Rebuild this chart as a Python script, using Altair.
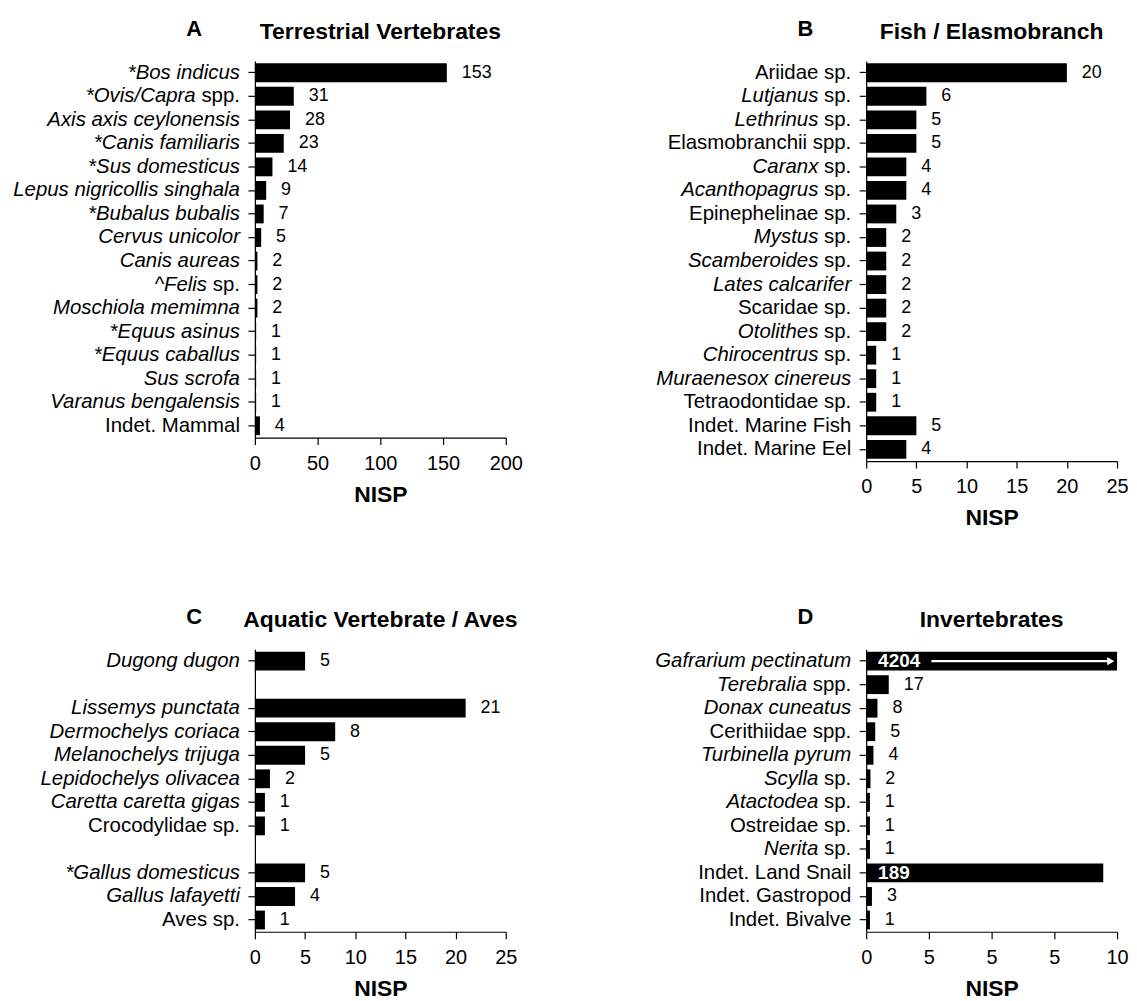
import re
import altair as alt
import pandas as pd

FONT = "Liberation Sans"

# ---------------- data ----------------
# labels: _text_ marks italic parts; None marks an empty separator row
a_labels = ["*_Bos indicus_", "*_Ovis/Capra_ spp.", "_Axis axis ceylonensis_", "*_Canis familiaris_",
            "*_Sus domesticus_", "_Lepus nigricollis singhala_", "*_Bubalus bubalis_", "_Cervus unicolor_",
            "_Canis aureas_", "^_Felis_ sp.", "_Moschiola memimna_", "*_Equus asinus_",
            "*_Equus caballus_", "_Sus scrofa_", "_Varanus bengalensis_", "Indet. Mammal"]
a_bars = [153, 31, 28, 23, 14, 9, 7, 5, 2, 2, 2, 1, 1, 1, 1, 4]
a_texts = ["153", "31", "28", "23", "14", "9", "7", "5", "2", "2", "2", "1", "1", "1", "1", "4"]

b_labels = ["Ariidae sp.", "_Lutjanus_ sp.", "_Lethrinus_ sp.", "Elasmobranchii spp.", "_Caranx_ sp.",
            "_Acanthopagrus_ sp.", "Epinephelinae sp.", "_Mystus_ sp.", "_Scamberoides_ sp.",
            "_Lates calcarifer_", "Scaridae sp.", "_Otolithes_ sp.", "_Chirocentrus_ sp.",
            "_Muraenesox cinereus_", "Tetraodontidae sp.", "Indet. Marine Fish", "Indet. Marine Eel"]
b_bars = [20, 6, 5, 5, 4, 4, 3, 2, 2, 2, 2, 2, 1, 1, 1, 5, 4]
b_texts = ["20", "6", "5", "5", "4", "4", "3", "2", "2", "2", "2", "2", "1", "1", "1", "5", "4"]

c_labels = ["_Dugong dugon_", None, "_Lissemys punctata_", "_Dermochelys coriaca_", "_Melanochelys trijuga_",
            "_Lepidochelys olivacea_", "_Caretta caretta gigas_", "Crocodylidae sp.", None,
            "*_Gallus domesticus_", "_Gallus lafayetti_", "Aves sp."]
c_bars = [5, None, 21, 8, 5, 1.5, 1, 1, None, 5, 4, 1]
c_texts = ["5", None, "21", "8", "5", "2", "1", "1", None, "5", "4", "1"]

d_labels = ["_Gafrarium pectinatum_", "_Terebralia_ spp.", "_Donax cuneatus_", "Cerithiidae spp.",
            "_Turbinella pyrum_", "_Scylla_ sp.", "_Atactodea_ sp.", "Ostreidae sp.", "_Nerita_ sp.",
            "Indet. Land Snail", "Indet. Gastropod", "Indet. Bivalve"]
d_bars = [10, 0.9, 0.45, 0.36, 0.29, 0.17, 0.15, 0.15, 0.15, 9.45, 0.23, 0.15]   # lengths on the broken axis
d_texts = ["4204", "17", "8", "5", "4", "2", "1", "1", "1", "189", "3", "1"]
d_inside = ["4204", "189"]            # values printed in white inside their bars
d_arrow = [2.6, 9.75]                 # arrow inside the Gafrarium bar (axis units)

a_ticks = [0, 50, 100, 150, 200]
bc_ticks = [0, 5, 10, 15, 20, 25]
d_tick_values = [0, 2.5, 5, 7.5, 10]
d_tick_labels = ["0", "5", "5", "5", "10"]

# ---------------- style ----------------
STEP = 23.64
PLOT_W = 252
YLAB_SIZE = 20.5
YLAB_GAP = 15
# Helvetica/Arial advance widths (1/1000 em) for the upright suffix glyphs
ADV = {" ": 278, "s": 500, "p": 556, ".": 278}


def width(s, size):
    return sum(ADV[c] for c in s) * size / 1000.0


def split_label(label):
    m = re.fullmatch(r"([*^]?)_(.+?)_(.*)", label)
    if m:
        pre, ital, suf = m.groups()
        return pre + ital, suf
    return "", label


def panel(letter, title, labels, bars, texts, xmax, tick_values, tick_labels=None,
          inside=(), arrow=None):
    rows = []
    for i, (lab, b, t) in enumerate(zip(labels, bars, texts)):
        key = lab if lab is not None else "gap%d" % i
        if lab is None:
            rows.append(dict(key=key, bar=None, txt="", ital="", norm="", inside=False))
            continue
        ital, norm = split_label(lab)
        rows.append(dict(key=key, bar=b, txt=t, ital=ital, norm=norm, inside=t in inside))
    df = pd.DataFrame(rows)
    order = list(df["key"])
    tick_keys = [k for k, l in zip(order, labels) if l is not None]

    yenc = alt.Y("key:N", sort=order,
                 scale=alt.Scale(paddingInner=0.2, paddingOuter=0.1),
                 axis=alt.Axis(title=None, labels=False, values=tick_keys, tickSize=7,
                               tickColor="black", domainColor="black", domainWidth=1.2,
                               tickWidth=1.2))
    if tick_labels is None:
        lexpr = "datum.label"
    else:
        parts = ["datum.value == %s ? '%s'" % (v, l) for v, l in zip(tick_values, tick_labels)]
        lexpr = " : ".join(parts) + " : ''"
    xscale = alt.Scale(domain=[0, xmax], nice=False, zero=True)
    xaxis = alt.Axis(title="NISP", values=tick_values, labelExpr=lexpr, grid=False,
                     labelFlush=False, labelOverlap=False)
    xenc = alt.X("bar:Q", scale=xscale, axis=xaxis)

    base = alt.Chart(df)
    layers = [base.mark_bar(color="black").encode(x=xenc, y=yenc)]

    # category labels (mixed upright / italic), right aligned left of the axis
    layers.append(base.transform_filter("datum.norm != ''").mark_text(
        align="right", baseline="middle", dx=-YLAB_GAP, fontSize=YLAB_SIZE, font=FONT, color="black"
    ).encode(x=alt.value(0), y=yenc, text="norm:N"))
    for suf in ["", " sp.", " spp."]:
        layers.append(base.transform_filter(
            "datum.ital != '' && datum.norm == '%s'" % suf).mark_text(
            align="right", baseline="middle", dx=-YLAB_GAP - width(suf, YLAB_SIZE),
            fontSize=YLAB_SIZE, font=FONT, fontStyle="italic", color="black"
        ).encode(x=alt.value(0), y=yenc, text="ital:N"))

    # value labels
    layers.append(base.transform_filter("datum.txt != '' && !datum.inside").mark_text(
        align="left", baseline="middle", dx=15, fontSize=18, font=FONT, color="black"
    ).encode(x=xenc, y=yenc, text="txt:N"))
    if inside:
        layers.append(base.transform_filter("datum.inside").mark_text(
            align="left", baseline="middle", dx=12, fontSize=19, font=FONT, fontWeight="bold",
            color="white"
        ).encode(x=alt.value(0), y=yenc, text="txt:N"))
    if arrow is not None:
        adf = pd.DataFrame({"key": [order[0]], "x0": [arrow[0]], "x1": [arrow[1]]})
        layers.append(alt.Chart(adf).mark_rule(color="white", strokeWidth=2.5).encode(
            x=alt.X("x0:Q", scale=xscale, axis=xaxis), x2="x1:Q", y=yenc))
        layers.append(alt.Chart(adf).mark_point(shape="triangle-right", filled=True, color="white",
                                                opacity=1, size=70).encode(
            x=alt.X("x1:Q", scale=xscale, axis=xaxis), y=yenc))

    head = alt.Chart(pd.DataFrame({"letter": [letter], "title": [title]}))
    layers.append(head.mark_text(
        align="center", baseline="alphabetic", fontSize=22, fontWeight="bold", font=FONT,
        color="black").encode(x=alt.value(-61), y=alt.value(-25), text="letter:N"))
    layers.append(head.mark_text(
        align="center", baseline="alphabetic", fontSize=23, fontWeight="bold", font=FONT,
        color="black").encode(x=alt.value(PLOT_W / 2), y=alt.value(-22), text="title:N"))

    return alt.layer(*layers).properties(width=PLOT_W, height=len(labels) * STEP)


pa = panel("A", "Terrestrial Vertebrates", a_labels, a_bars, a_texts, 200, a_ticks)
pb = panel("B", "Fish / Elasmobranch", b_labels, b_bars, b_texts, 25, bc_ticks)
pc = panel("C", "Aquatic Vertebrate / Aves", c_labels, c_bars, c_texts, 25, bc_ticks)
pd_ = panel("D", "Invertebrates", d_labels, d_bars, d_texts, 10, d_tick_values, d_tick_labels,
            inside=d_inside, arrow=d_arrow)

chart = alt.concat(pa, pb, pc, pd_, columns=2, spacing={"row": 189, "column": 362},
                   bounds="flush").properties(
    padding={"left": 5, "top": 8, "right": 0, "bottom": 0}
).configure_view(stroke=None).configure_axis(
    labelFont=FONT, titleFont=FONT, labelFontSize=20, titleFontSize=23, titleFontWeight="bold",
    labelColor="black", titleColor="black", tickColor="black", domainColor="black",
    tickSize=7, labelPadding=9, titlePadding=10, domainWidth=1.2, tickWidth=1.2
)

chart.save("out.html", embed_options={"renderer": "svg", "actions": False})
